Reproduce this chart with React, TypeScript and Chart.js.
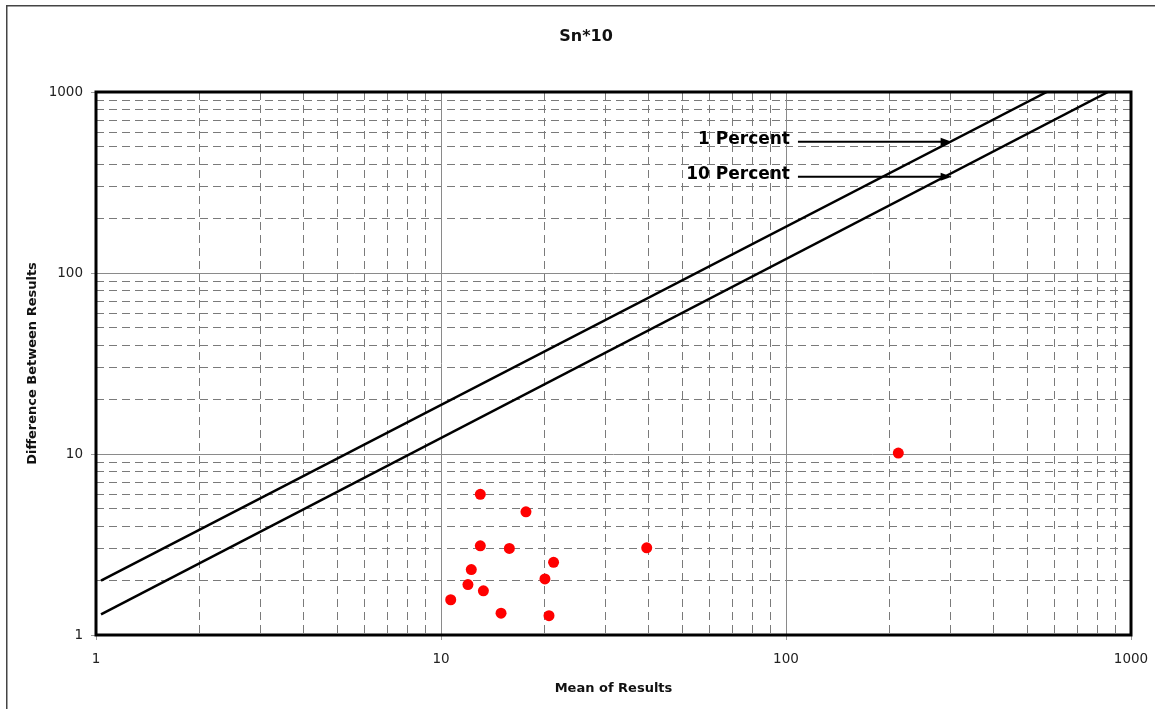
import React, { useEffect, useRef } from 'react';
import { Chart, registerables } from 'chart.js';

Chart.register(...registerables);

const chartTitle = 'Sn*10';
const xAxisTitle = 'Mean of Results';
const yAxisTitle = 'Difference Between Results';

// Sample points
const meanOfResults = [13.0, 17.63, 13.0, 15.78, 21.2, 12.24, 20.01, 11.97, 13.27, 10.67, 14.93, 20.56, 39.47, 211.6];
const differenceBetweenResults = [5.99, 4.79, 3.11, 3.01, 2.52, 2.30, 2.04, 1.90, 1.755, 1.566, 1.32, 1.278, 3.03, 10.12];

// Reference lines
const onePercentX = [1.034, 570];
const onePercentY = [1.995, 1000];
const tenPercentX = [1.034, 858];
const tenPercentY = [1.301, 1000];

// Axes
const axisMin = 1;
const axisMax = 1000;
const majorTicks = [1, 10, 100, 1000];
const majorTickLabels = ['1', '10', '100', '1000'];
const minorMultipliers = [2, 3, 4, 5, 6, 7, 8, 9];

// Annotations (data units)
const arrowLabels = ['1 Percent', '10 Percent'];
const arrowLabelEndX = [102.7, 102.7];
const arrowStartX = [108.3, 108.3];
const arrowTipX = [302, 302];
const arrowY = [531, 340];

const tickValues: number[] = majorTicks.flatMap((m, i) =>
  i < majorTicks.length - 1 ? [m, ...minorMultipliers.map((k) => k * m)] : [m]
);

const isMajor = (v: number) => majorTicks.indexOf(v) >= 0;

const FONT = "'DejaVu Sans', 'Liberation Sans', sans-serif";

const decorPlugin = {
  id: 'decor',
  beforeDraw(chart: any) {
    const ctx = chart.ctx;
    ctx.save();
    ctx.strokeStyle = '#444';
    ctx.lineWidth = 1.5;
    ctx.strokeRect(6.75, 5.75, chart.width + 20, chart.height + 20);
    ctx.fillStyle = '#111';
    ctx.font = `bold 16px ${FONT}`;
    ctx.textAlign = 'center';
    ctx.textBaseline = 'middle';
    ctx.fillText(chartTitle, 586, 37);
    ctx.restore();
  },
  beforeDatasetsDraw(chart: any) {
    const { ctx, chartArea: a, scales } = chart;
    const x = scales.x;
    const y = scales.y;
    ctx.save();
    ctx.strokeStyle = '#8a8a8a';
    ctx.lineWidth = 1;
    majorTicks.forEach((v) => {
      if (v > axisMin && v < axisMax) {
        const px = Math.round(x.getPixelForValue(v)) + 0.5;
        ctx.beginPath();
        ctx.moveTo(px, a.top);
        ctx.lineTo(px, a.bottom);
        ctx.stroke();
        const py = Math.round(y.getPixelForValue(v)) + 0.5;
        ctx.beginPath();
        ctx.moveTo(a.left, py);
        ctx.lineTo(a.right, py);
        ctx.stroke();
      }
    });
    ctx.restore();
  },
  afterDraw(chart: any) {
    const { ctx, chartArea: a, scales } = chart;
    const x = scales.x;
    const y = scales.y;
    ctx.save();
    // plot frame
    ctx.strokeStyle = '#000';
    ctx.lineWidth = 3;
    ctx.strokeRect(a.left, a.top, a.right - a.left, a.bottom - a.top);
    // arrows + labels
    arrowLabels.forEach((label, i) => {
      const sx = x.getPixelForValue(arrowStartX[i]);
      const tx = x.getPixelForValue(arrowTipX[i]);
      const py = y.getPixelForValue(arrowY[i]);
      const head = 11;
      ctx.strokeStyle = '#000';
      ctx.fillStyle = '#000';
      ctx.lineWidth = 2;
      ctx.beginPath();
      ctx.moveTo(sx, py);
      ctx.lineTo(tx - head + 1, py);
      ctx.stroke();
      ctx.beginPath();
      ctx.moveTo(tx, py);
      ctx.lineTo(tx - head, py - 4);
      ctx.lineTo(tx - head, py + 4);
      ctx.closePath();
      ctx.fill();
      const lx = x.getPixelForValue(arrowLabelEndX[i]);
      ctx.font = `bold 17px ${FONT}`;
      ctx.textAlign = 'right';
      ctx.textBaseline = 'middle';
      ctx.fillStyle = '#000';
      ctx.fillText(label, lx, py - 2);
    });
    ctx.restore();
  },
};

function logAxis(axis: 'x' | 'y') {
  return {
    type: 'logarithmic' as const,
    min: axisMin,
    max: axisMax,
    afterBuildTicks: (scale: any) => {
      scale.ticks = tickValues.map((v) => ({ value: v }));
    },
    afterFit: (scale: any) => {
      if (axis === 'y') {
        scale.width = 96;
        scale.paddingTop = 0;
        scale.paddingBottom = 0;
      } else {
        scale.height = 74;
        scale.paddingLeft = 0;
        scale.paddingRight = 0;
      }
    },
    border: { display: false, dash: [8, 5] },
    grid: {
      color: (c: any) => (c.tick && isMajor(c.tick.value) ? 'rgba(0,0,0,0)' : '#7a7a7a'),
      lineWidth: 1,
      drawTicks: true,
      tickLength: 5,
      tickColor: (c: any) => (c.tick && isMajor(c.tick.value) ? '#9a9a9a' : 'rgba(0,0,0,0)'),
    },
    ticks: {
      autoSkip: false,
      maxRotation: 0,
      minRotation: 0,
      padding: axis === 'y' ? 8 : 11,
      color: '#222',
      font: { size: 13.5, family: FONT },
      callback: (value: any) => {
        const idx = majorTicks.indexOf(Number(value));
        return idx >= 0 ? majorTickLabels[idx] : '';
      },
    },
    title: {
      display: true,
      text: axis === 'y' ? yAxisTitle : xAxisTitle,
      color: '#111',
      font: { size: 13, weight: 'bold' as const, family: FONT },
      padding: axis === 'y' ? { top: 25, bottom: 0 } : { top: 0, bottom: 13 },
    },
  };
}

export default function App() {
  const canvasRef = useRef<HTMLCanvasElement | null>(null);

  useEffect(() => {
    if (!canvasRef.current) return;
    Chart.defaults.font.family = FONT;
    const chart = new Chart(canvasRef.current, {
      type: 'scatter',
      data: {
        datasets: [
          {
            label: 'Samples',
            data: meanOfResults.map((m, i) => ({ x: m, y: differenceBetweenResults[i] })),
            backgroundColor: '#ff0000',
            borderColor: '#ff0000',
            borderWidth: 0,
            pointRadius: 5.5,
            order: 0,
          },
          {
            label: '1 Percent',
            data: onePercentX.map((v, i) => ({ x: v, y: onePercentY[i] })),
            showLine: true,
            borderColor: '#000',
            borderWidth: 2.5,
            pointRadius: 0,
            order: 1,
          },
          {
            label: '10 Percent',
            data: tenPercentX.map((v, i) => ({ x: v, y: tenPercentY[i] })),
            showLine: true,
            borderColor: '#000',
            borderWidth: 2.5,
            pointRadius: 0,
            order: 1,
          },
        ],
      },
      options: {
        animation: false,
        responsive: true,
        maintainAspectRatio: false,
        layout: { padding: { top: 92, right: 24, left: 0, bottom: 0 } },
        plugins: {
          legend: { display: false },
          tooltip: { enabled: false },
          title: { display: false },
        },
        scales: {
          x: logAxis('x') as any,
          y: logAxis('y') as any,
        },
      },
      plugins: [decorPlugin],
    });
    return () => chart.destroy();
  }, []);

  return (
    <div style={{ position: 'fixed', left: 0, top: 0, width: 1155, height: 709, background: '#fff' }}>
      <canvas ref={canvasRef} />
    </div>
  );
}
